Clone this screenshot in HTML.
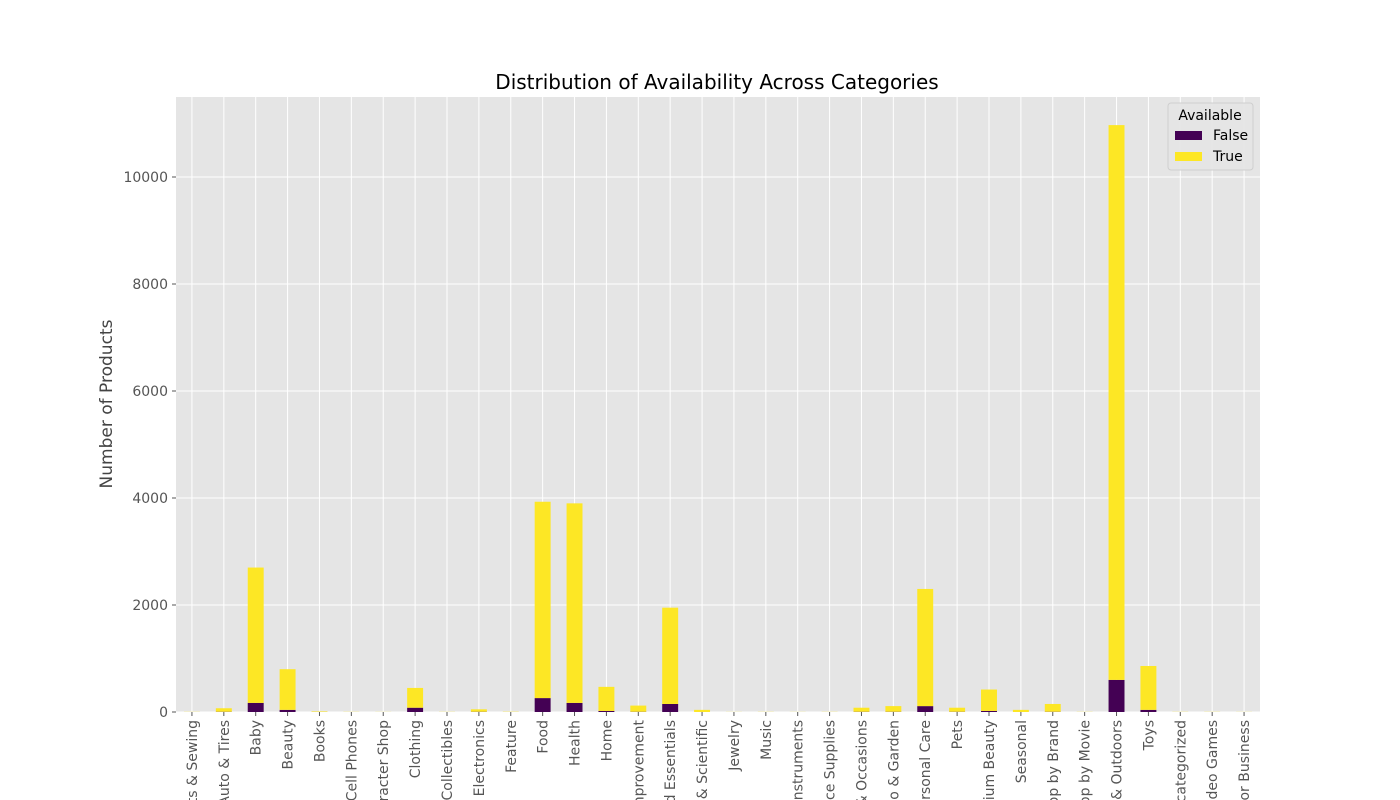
<!DOCTYPE html>
<html><head><meta charset="utf-8">
<style>
html,body{margin:0;padding:0;width:1400px;height:800px;overflow:hidden;background:#fff;}
svg{display:block;overflow:hidden;font-family:"DejaVu Sans","Liberation Sans",sans-serif;}
</style></head>
<body>
<svg id="chart" width="1400" height="800" viewBox="0 0 1400 800">
<rect x="0" y="0" width="1400" height="800" fill="#fff"/>
<rect x="176" y="97" width="1084" height="615" fill="#e5e5e5"/>
<g id="grid"></g>
<g id="bars"></g>
<g id="xticks"></g>
<g id="yticks"></g>
<text x="717" y="89" text-anchor="middle" font-size="20" fill="#000">Distribution of Availability Across Categories</text>
<text transform="translate(112,404) rotate(-90)" text-anchor="middle" font-size="17" fill="#444">Number of Products</text>
<g>
<rect x="1168" y="103" width="85" height="67" rx="3" fill="#e5e5e5" stroke="#ccc" stroke-width="1" opacity="0.9"/>
<text x="1210" y="120" text-anchor="middle" font-size="14" fill="#000">Available</text>
<rect x="1175" y="131" width="27" height="9" fill="#440154"/>
<text x="1213" y="140" font-size="14" fill="#000">False</text>
<rect x="1175" y="152" width="27" height="9" fill="#fde725"/>
<text x="1213" y="161" font-size="14" fill="#000">True</text>
</g>
</svg>
<script>
const categories = ["Arts Crafts & Sewing","Auto & Tires","Baby","Beauty","Books","Cell Phones","Character Shop","Clothing","Collectibles","Electronics","Feature","Food","Health","Home","Home Improvement","Household Essentials","Industrial & Scientific","Jewelry","Music","Musical Instruments","Office Supplies","Party & Occasions","Patio & Garden","Personal Care","Pets","Premium Beauty","Seasonal","Shop by Brand","Shop by Movie","Sports & Outdoors","Toys","Uncategorized","Video Games","Walmart for Business"];
const falseCounts = [0,5,170,40,0,0,0,80,0,5,0,260,170,20,5,150,0,0,0,0,0,5,5,110,5,20,0,5,0,600,40,0,0,0];
const trueCounts = [3,65,2530,760,10,3,2,370,3,45,5,3670,3730,450,115,1800,40,2,3,2,3,75,105,2190,75,400,40,145,3,10370,820,3,3,2];
const yTicks = [0,2000,4000,6000,8000,10000];

const NS="http://www.w3.org/2000/svg";
const x0=176,x1=1260,yBase=712,pxPerUnit=(712-177)/10000;
const step=(x1-x0)/categories.length;
const xPos=i=>x0+step*(i+0.5);
const yPos=v=>yBase-v*pxPerUnit;
function mk(tag,attrs,parent){const e=document.createElementNS(NS,tag);for(const k in attrs)e.setAttribute(k,attrs[k]);parent.appendChild(e);return e;}
const grid=document.getElementById('grid'),bars=document.getElementById('bars'),xt=document.getElementById('xticks'),yt=document.getElementById('yticks');
yTicks.forEach(t=>{
  const y=yPos(t);
  const g=mk('line',{x1:x0,x2:x1,y1:y,y2:y,stroke:'#fff','stroke-width':1},grid);
  
  
  mk('line',{x1:x0-4,x2:x0,y1:y,y2:y,stroke:'#555'},yt);
  const tx=mk('text',{x:x0-8,y:y+5,'text-anchor':'end','font-size':'14',fill:'#555'},yt);
  tx.textContent=t;
  
  
});
categories.forEach((c,i)=>{
  const x=xPos(i);
  const g=mk('line',{x1:x,x2:x,y1:97,y2:yBase,stroke:'#fff','stroke-width':1},grid);
  
  
  const w=step*0.5;
  const f=falseCounts[i],t=trueCounts[i];
  const bf=mk('rect',{x:x-w/2,y:yPos(f),width:w,height:f*pxPerUnit,fill:'#440154'},bars);
  
  
  const bt=mk('rect',{x:x-w/2,y:yPos(f+t),width:w,height:t*pxPerUnit,fill:'#fde725'},bars);
  
  
  mk('line',{x1:x,x2:x,y1:yBase,y2:yBase+4,stroke:'#555'},xt);
  const tx=mk('text',{transform:`translate(${x+5},${yBase+8}) rotate(-90)`,'text-anchor':'end','font-size':'14',fill:'#555'},xt);
  tx.textContent=c;
  
  
});
</script>
</body></html>
